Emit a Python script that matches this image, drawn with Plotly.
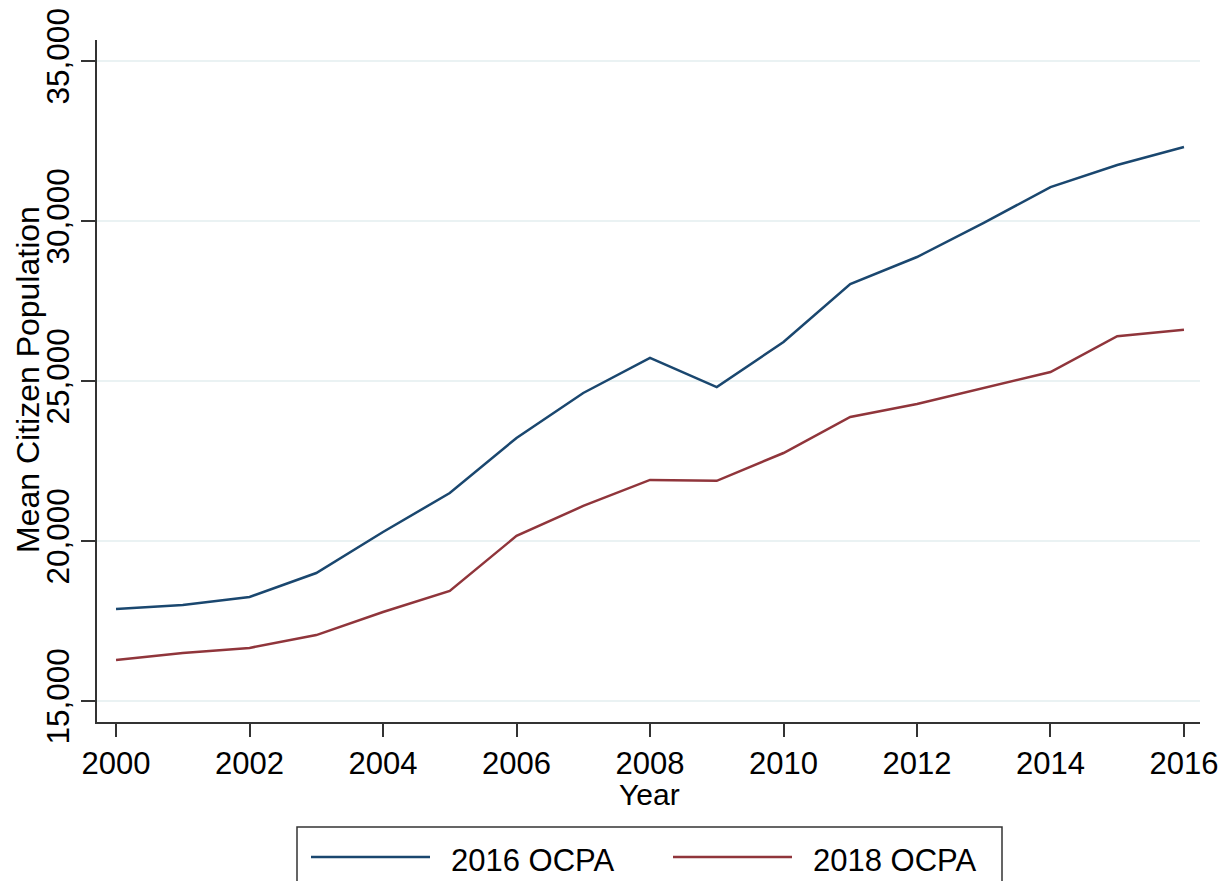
import plotly.graph_objects as go

years = list(range(2000, 2017))
ocpa_2016 = [17875, 18000, 18250, 19000, 20280, 21500, 23220, 24625, 25720,
             24810, 26220, 28030, 28875, 29940, 31060, 31750, 32310]
ocpa_2018 = [16280, 16500, 16660, 17060, 17780, 18440, 20160, 21095, 21910,
             21880, 22750, 23875, 24280, 24780, 25280, 26400, 26600]
series_names = ["2016 OCPA", "2018 OCPA"]
series_colors = ["#1a476f", "#90353b"]
y_ticks = [15000, 20000, 25000, 30000, 35000]
x_ticks = list(range(2000, 2017, 2))

font = "Liberation Sans, Arial, sans-serif"

# plot area in pixels: left 97, right 1200, top 40, bottom 722
L, R, T, B = 97, 1200, 40, 722


def px(x):
    return (x - L) / (R - L)


def py(y):
    return (B - y) / (B - T)


fig = go.Figure()
for name, vals, col in zip(series_names, [ocpa_2016, ocpa_2018], series_colors):
    fig.add_trace(go.Scatter(x=years, y=vals, mode="lines", name=name,
                             line={"color": col, "width": 2.5}))

# Stata-style legend box drawn by hand (long line keys)
shapes = [dict(type="rect", xref="paper", yref="paper",
               x0=px(297), x1=px(1002), y0=py(900), y1=py(827),
               line={"color": "#333333", "width": 1.5}, fillcolor="white")]
annotations = [
    dict(text="Mean Citizen Population", xref="paper", yref="paper",
         x=px(28), y=py(380), textangle=-90, xanchor="center", yanchor="middle",
         showarrow=False, font={"size": 32, "color": "black"}),
    dict(text="Year", xref="paper", yref="paper",
         x=px(649), y=py(795), xanchor="center", yanchor="middle",
         showarrow=False, font={"size": 30, "color": "black"}),
]
for i, (name, col) in enumerate(zip(series_names, series_colors)):
    x0 = 311 + i * 362
    shapes.append(dict(type="line", xref="paper", yref="paper",
                       x0=px(x0), x1=px(x0 + 119), y0=py(857), y1=py(857),
                       line={"color": col, "width": 2.5}))
    annotations.append(dict(text=name, xref="paper", yref="paper",
                            x=px(x0 + 138), y=py(860), xanchor="left", yanchor="middle",
                            showarrow=False, font={"size": 31, "color": "black"}))

fig.update_layout(
    width=1222, height=881,
    margin={"l": L, "r": 1222 - R, "t": T, "b": 881 - B},
    paper_bgcolor="white", plot_bgcolor="white",
    font={"family": font, "size": 31, "color": "black"},
    showlegend=False,
    shapes=shapes,
    annotations=annotations,
)
fig.update_xaxes(
    range=[1999.715, 2016.24], tickvals=x_ticks, showgrid=False, zeroline=False,
    showline=True, linecolor="#333333", linewidth=1.5, automargin=False,
    ticks="outside", ticklen=13, tickwidth=1.5, tickcolor="#333333",
    tickfont={"size": 31},
)
fig.update_yaxes(
    range=[14344, 35656], tickvals=y_ticks, tickformat=",", tickangle=-90,
    showgrid=True, gridcolor="#eaf2f3", gridwidth=2, zeroline=False,
    showline=True, linecolor="#333333", linewidth=1.5, automargin=False,
    ticks="outside", ticklen=14, tickwidth=1.5, tickcolor="#333333",
    tickfont={"size": 31.5},
)

fig.write_html("out.html", config={"displayModeBar": False},
               post_script="document.body.style.margin = '0';")
